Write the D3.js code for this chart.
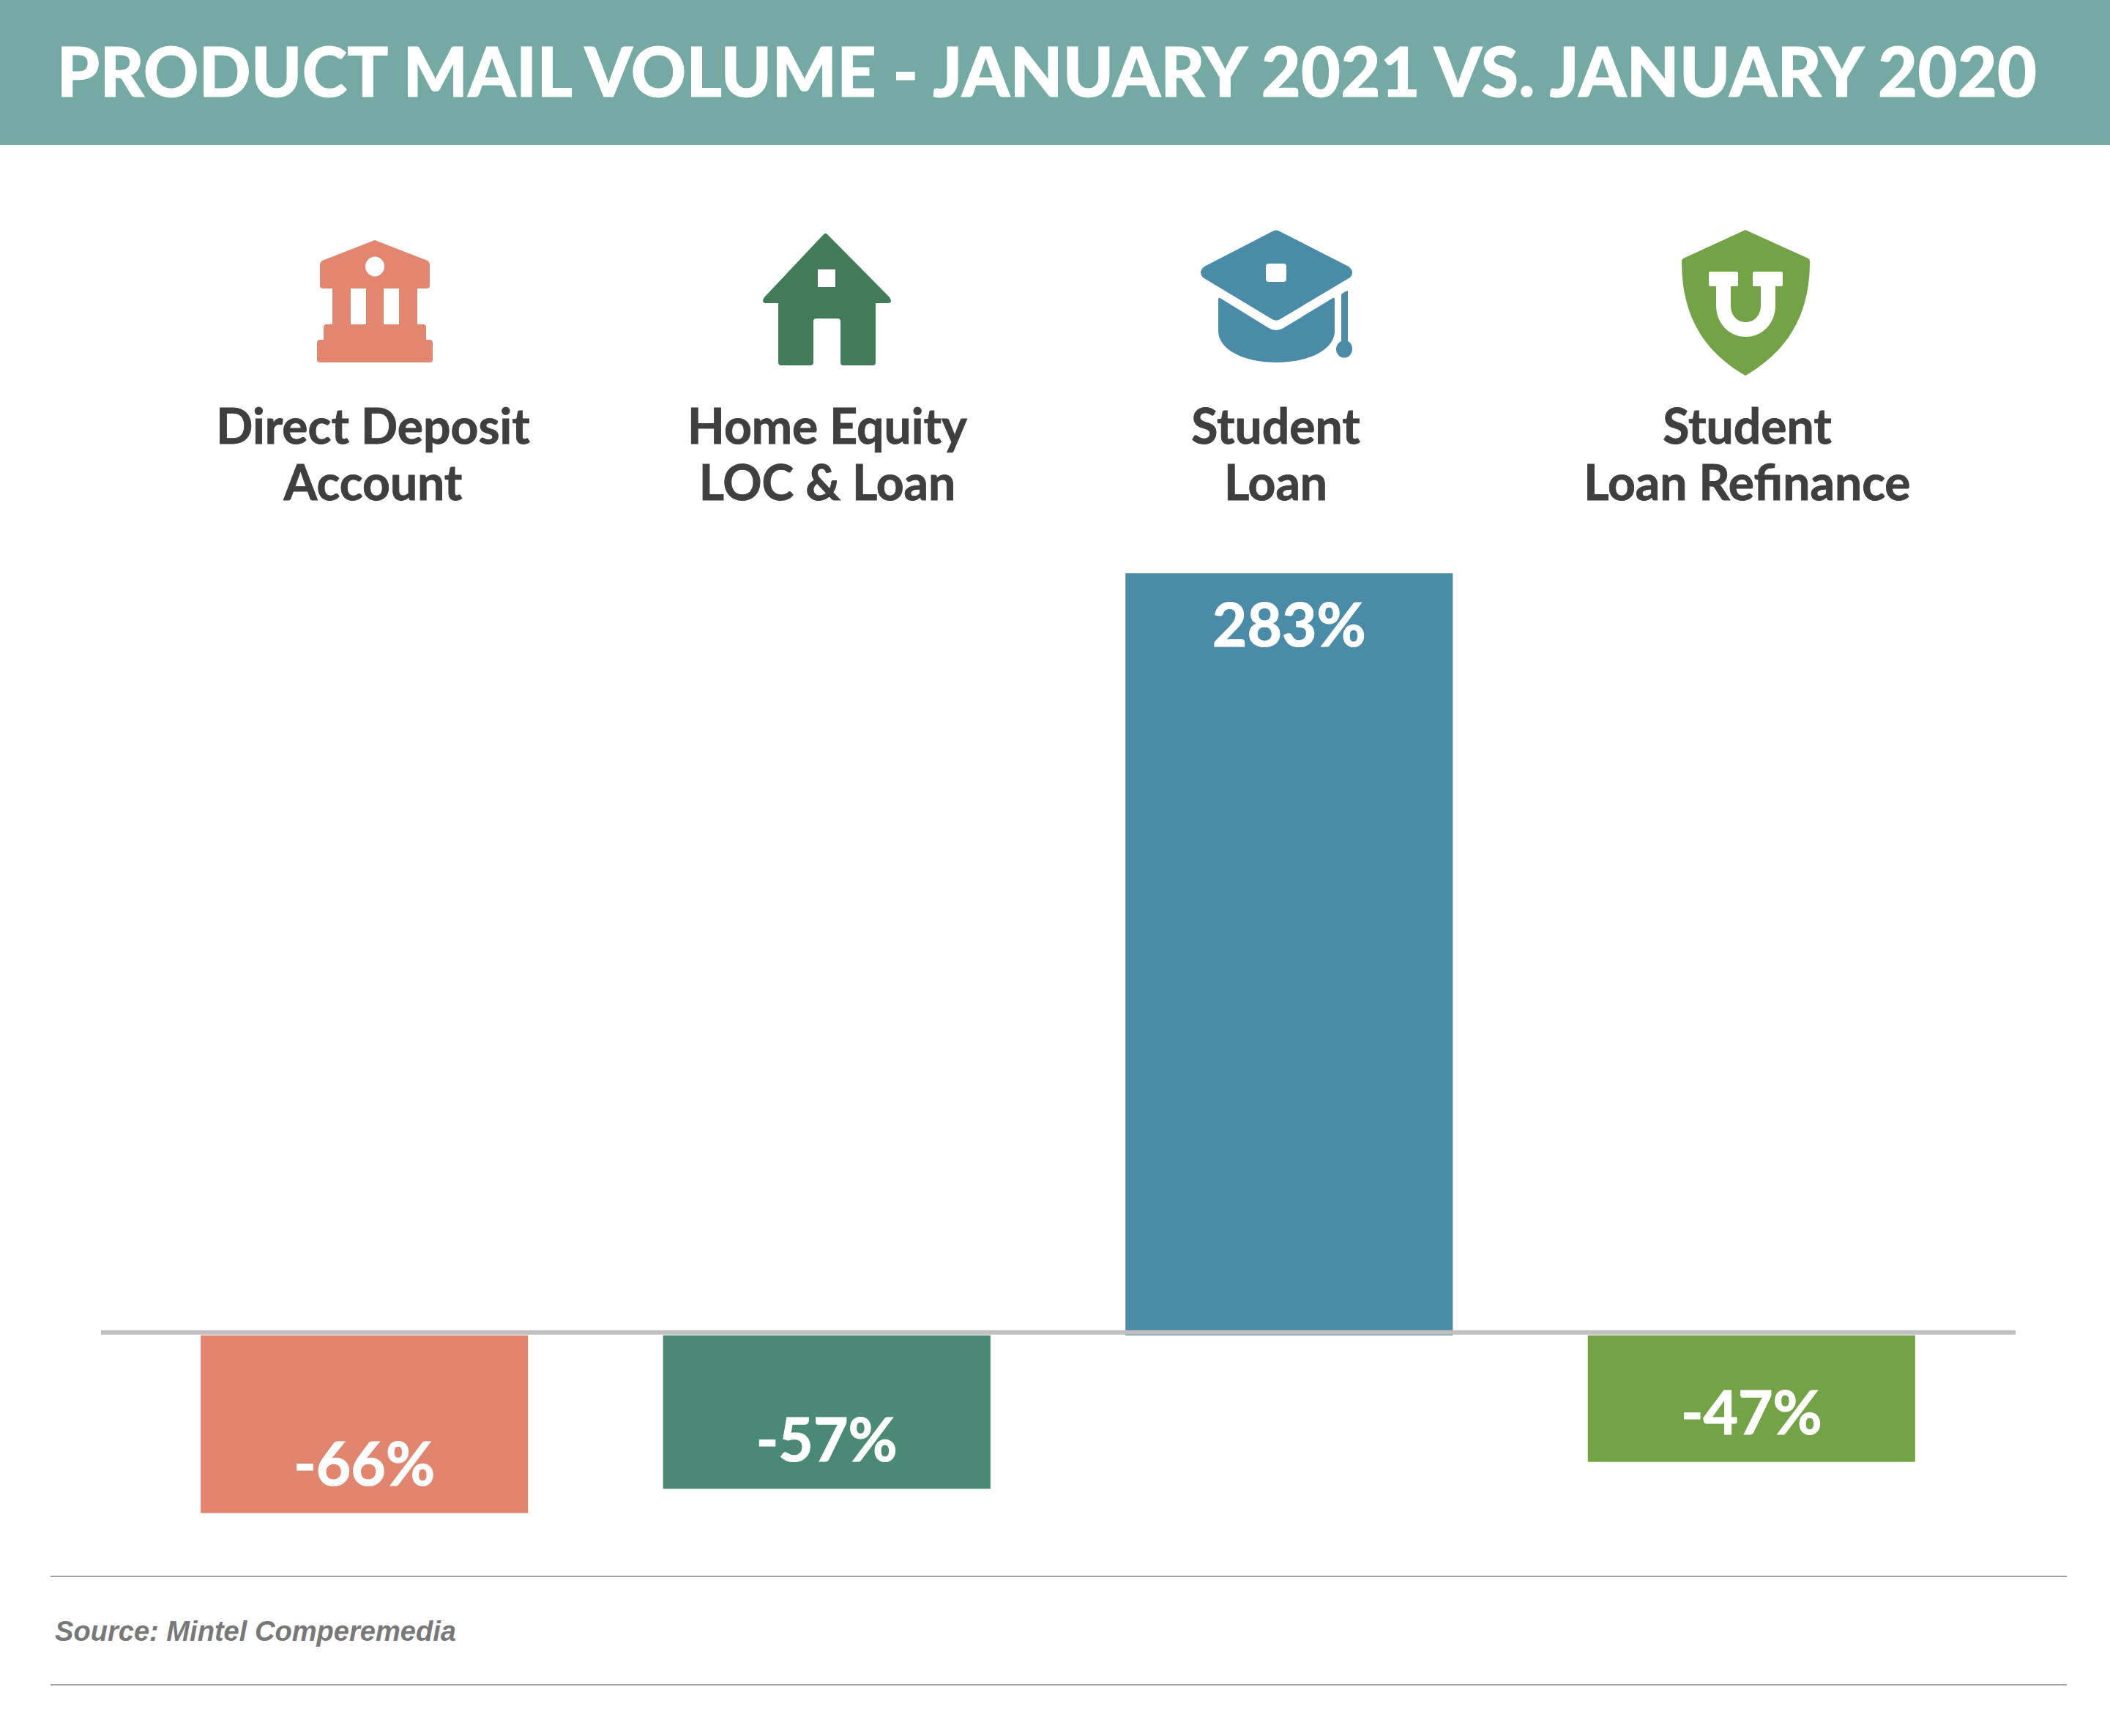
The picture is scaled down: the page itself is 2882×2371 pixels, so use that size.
<!DOCTYPE html>
<html><head><meta charset="utf-8">
<script src="https://cdn.jsdelivr.net/npm/d3@7"></script>
<style>html,body{margin:0;padding:0;background:#fff}svg{display:block}</style>
</head><body><div id="chart"></div>
<script>
const titleText = "PRODUCT MAIL VOLUME - JANUARY 2021 VS. JANUARY 2020";
const categories = ["Direct Deposit Account","Home Equity LOC & Loan","Student Loan","Student Loan Refinance"];
const labelLines = [["Direct Deposit","Account"],["Home Equity","LOC & Loan"],["Student","Loan"],["Student","Loan Refinance"]];
const values = [-66,-57,283,-47];
const barColors = ["#e1856e","#4b8977","#4a8ba7","#73a346"];
const iconColors = ["#e2866f","#417b58","#4a8ba7","#73a346"];
const sourceText = "Source: Mintel Comperemedia";

const W=2882,H=2371;
const svg=d3.select("#chart").append("svg").attr("width",W).attr("height",H).attr("viewBox",`0 0 ${W} ${H}`);
svg.append("rect").attr("width",W).attr("height",H).attr("fill","#fff");
svg.append("rect").attr("width",W).attr("height",198).attr("fill","#75a9a4");
svg.append("text").attr("x",1430).attr("y",132).attr("text-anchor","middle")
  .attr("font-family","Lato").attr("font-weight",900).attr("font-size",93).attr("letter-spacing",0.35)
  .attr("fill","#fff").attr("stroke","#fff").attr("stroke-width",1).text(titleText);

const x=d3.scaleBand().domain(categories).range([138,2752]).paddingInner(.292).paddingOuter(.2155);
const y=d3.scaleLinear().domain([-66,283]).range([2066.5,783]);
const zeroGap=y(0);

svg.append("g").selectAll("rect").data(categories).join("rect")
  .attr("x",d=>x(d)).attr("width",x.bandwidth())
  .attr("y",(d,i)=>y(Math.max(0,values[i])))
  .attr("height",(d,i)=>Math.abs(y(values[i])-y(0)))
  .attr("fill",(d,i)=>barColors[i]);

svg.append("rect").attr("x",138).attr("width",2615).attr("y",zeroGap-7).attr("height",6).attr("fill","#bfbfbf");

// value labels
const valueFmt=v=>v+"%";
svg.append("g").selectAll("text").data(values).join("text")
  .attr("x",(d,i)=>x(categories[i])+x.bandwidth()/2)
  .attr("y",d=>d>0? y(d)+100 : y(d)-37.5)
  .attr("text-anchor","middle").attr("font-family","Lato").attr("font-weight",700).attr("font-size",82)
  .attr("fill","#fff").attr("stroke","#fff").attr("stroke-width",1.2)
  .text(valueFmt);

// category labels
const labelX=[509.500,1130,1742.500,2386.500];
const lab=svg.append("g").attr("font-family","Lato").attr("font-weight",700).attr("font-size",66).attr("fill","#3f3f3f")
  .attr("stroke","#3f3f3f").attr("stroke-width",0.9).attr("text-anchor","middle");
labelLines.forEach((ls,i)=>ls.forEach((t,j)=>lab.append("text").attr("x",labelX[i]).attr("y",606+77*j).text(t)));

// icons
const ic=svg.append("g");
// bank
ic.append("path").attr("fill",iconColors[0]).attr("fill-rule","evenodd").attr("d",
 "M512 328L584 356Q587 358 587 361V390Q587 394 583 394H570V443H578Q582 443 582 447V464H587Q591 464 591 468V491Q591 495 587 495H437Q433 495 433 491V468Q433 464 437 464H442V447Q442 443 446 443H454V394H441Q437 394 437 390V361Q437 358 440 356Z"+
 "M479 394V443H500V394ZM524 394V443H545V394ZM499 364a13 13.5 0 1 0 26 0a13 13.5 0 1 0 -26 0Z");
// house
ic.append("path").attr("fill",iconColors[1]).attr("fill-rule","evenodd").attr("d",
 "M1129 319L1215 406Q1220 414 1212 414H1196V495Q1196 499 1192 499H1152Q1148 499 1148 495V439Q1148 435 1144 435H1115Q1111 435 1111 439V495Q1111 499 1107 499H1067Q1063 499 1063 495V414H1047Q1039 414 1044 406L1126 319Z"+
 "M1117 368V392H1141V368Z");
// graduation cap
const cap=ic.append("g").attr("fill",iconColors[2]);
cap.append("path").attr("fill-rule","evenodd").attr("d",
 "M1738 316Q1743 313 1748 316L1842 364Q1851 371 1844 379L1750 435Q1743 440 1736 435L1643 379Q1636 371 1645 364Z"+
 "M1733 360Q1729 360 1729 364V381Q1729 385 1733 385H1753Q1757 385 1757 381V364Q1757 360 1753 360Z");
cap.append("path").attr("d",
 "M1664 409Q1664 405 1668 408L1733 448Q1743 454 1753 448L1819 408Q1823 405 1823 409V452C1823 478 1787 495 1743.500 495C1700 495 1664 478 1664 452Z");
cap.append("path").attr("d","M1832 403Q1832 400 1841 397V466C1845 468 1847 472 1847 477A11 11.500 0 0 1 1825 477C1825 472 1828 468 1832 466Z");
// shield
ic.append("path").attr("fill",iconColors[3]).attr("fill-rule","evenodd").attr("d",
 "M2384 314L2470 353Q2472 354 2472 357C2472 420 2450 475 2384 513C2318 475 2297 420 2297 357Q2297 354 2299 353Z"+
 "M2336 371Q2334 371 2334 373V389Q2334 391 2336 391H2344V417C2344 442 2362 460 2384.500 460C2407 460 2425 442 2425 417V391H2433Q2435 391 2435 389V373Q2435 371 2433 371H2396Q2394 371 2394 373V389Q2394 391 2396 391H2405V417C2405 431 2396 440 2384.500 440C2373 440 2364 431 2364 417V391H2372Q2374 391 2374 389V373Q2374 371 2372 371Z");

// footer
[2153,2301].forEach(v=>svg.append("rect").attr("x",69).attr("width",2754).attr("y",v-1).attr("height",2).attr("fill","#a0a0a0"));
svg.append("text").attr("x",75).attr("y",2241).attr("font-family","Liberation Sans").attr("font-weight",700).attr("font-style","italic")
  .attr("font-size",38.1).attr("fill","#787878").text(sourceText);
</script></body></html>
